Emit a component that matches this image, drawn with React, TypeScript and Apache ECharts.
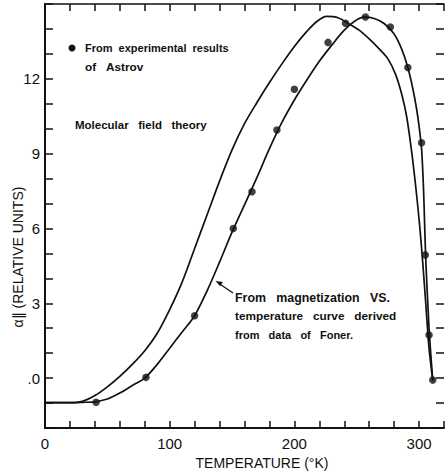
import React, { useEffect, useRef } from "react";
import * as echarts from "echarts";

// Tick labels
const xTickLabels = [0, 100, 200, 300];
const yTickLabels = [0, 3, 6, 9, 12];

// Experimental points (Astrov)
const astrovT = [41, 81, 120, 151, 166, 186, 200, 227, 241, 257, 277, 291, 302, 305, 308, 311];
const astrovA = [-0.97, 0.03, 2.5, 6.0, 7.47, 9.95, 11.58, 13.46, 14.23, 14.48, 14.08, 12.45, 9.44, 4.94, 1.73, -0.08];

// Molecular field theory curve
const molT = [0, 20, 30, 40, 50, 60, 70, 80, 90, 100, 110, 120, 130, 140, 150, 160, 170, 180, 190, 200, 210, 218, 226, 235, 244, 252, 260, 268, 275, 281, 286, 290, 294, 297.5, 300.5, 303, 305.5, 308, 311];
const molA = [-0.98, -0.98, -0.93, -0.7, -0.35, 0.07, 0.55, 1.1, 1.8, 2.75, 3.85, 5.2, 6.55, 7.9, 9.15, 10.2, 11.05, 11.85, 12.6, 13.3, 13.9, 14.3, 14.5, 14.45, 14.2, 13.95, 13.6, 13.2, 12.8, 12.2, 11.4, 10.5, 9.1, 7.6, 6.1, 4.6, 2.9, 1.2, -0.1];

// Curve from magnetization vs. temperature (Foner)
const magT = [0, 20, 30, 40, 50, 60, 70, 80, 90, 100, 110, 120, 130, 140, 150, 160, 170, 180, 190, 200, 210, 220, 230, 240, 248, 256, 264, 272, 280, 286, 291, 295, 298, 300, 302, 303.5, 304.5, 305.5, 307, 308.5, 311];
const magA = [-0.98, -0.98, -0.97, -0.95, -0.84, -0.6, -0.3, 0.0, 0.55, 1.2, 1.85, 2.5, 3.5, 4.65, 5.85, 6.95, 8.05, 9.2, 10.25, 11.15, 11.95, 12.7, 13.35, 13.95, 14.3, 14.47, 14.42, 14.22, 13.8, 13.2, 12.45, 11.6, 10.8, 10.1, 9.2, 7.7, 6.1, 4.6, 3.0, 1.6, -0.1];

const FONT = "Liberation Sans";
const G3 = "\u00a0\u00a0\u00a0";
const G2 = "\u00a0\u00a0";

export default function App() {
  const ref = useRef<HTMLDivElement>(null);
  useEffect(() => {
    if (!ref.current) return;
    const chart = echarts.init(ref.current, null, { renderer: "svg" });
    const zip = (a: number[], b: number[]) => a.map((v, i) => [v, b[i]]);
    const tickStyle = { color: "#111", width: 1.5 };
    const textStyle = (words: string[], size = 11.8, gap = G3) => ({
      text: words.join(gap),
      fill: "#111",
      font: `bold ${size}px "${FONT}"`,
      verticalAlign: "middle",
      align: "left",
    });
    chart.setOption({
      animation: false,
      backgroundColor: "#fff",
      textStyle: { fontFamily: FONT },
      grid: { left: 45, right: 0, top: 4, bottom: 48 },
      xAxis: [
        {
          type: "value",
          min: 0,
          max: 320,
          interval: 20,
          position: "bottom",
          axisLine: { onZero: false, lineStyle: { color: "#111", width: 2 } },
          axisTick: { inside: true, length: 7, lineStyle: tickStyle },
          splitLine: { show: false },
          axisLabel: {
            margin: 8,
            fontSize: 15,
            color: "#111",
            fontFamily: FONT,
            formatter: (v: number) => (xTickLabels.includes(v) ? String(v) : ""),
          },
        },
        {
          type: "value",
          min: 0,
          max: 320,
          interval: 20,
          position: "top",
          axisLine: { onZero: false, lineStyle: { color: "#111", width: 1.5 } },
          axisTick: { inside: true, length: 7, lineStyle: tickStyle },
          splitLine: { show: false },
          axisLabel: { show: false },
        },
      ],
      yAxis: [
        {
          type: "value",
          min: -2,
          max: 15,
          interval: 1,
          position: "left",
          axisLine: { onZero: false, lineStyle: { color: "#111", width: 2 } },
          axisTick: { inside: true, length: 8, lineStyle: tickStyle },
          splitLine: { show: false },
          axisLabel: {
            margin: 5,
            fontSize: 15,
            color: "#111",
            fontFamily: FONT,
            formatter: (v: number) =>
              yTickLabels.includes(v) ? (v === 0 ? ".0" : String(v)) : "",
          },
        },
        {
          type: "value",
          min: -2,
          max: 15,
          interval: 1,
          position: "right",
          axisLine: { show: false, onZero: false },
          axisTick: { show: true, inside: true, length: 8, lineStyle: tickStyle },
          splitLine: { show: false },
          axisLabel: { show: false },
        },
      ],
      series: [
        {
          name: "Molecular field theory",
          type: "line",
          data: zip(molT, molA),
          smooth: 0.3,
          showSymbol: false,
          lineStyle: { color: "#111", width: 1.7 },
        },
        {
          name: "From magnetization VS. temperature curve",
          type: "line",
          data: zip(magT, magA),
          smooth: 0.3,
          showSymbol: false,
          lineStyle: { color: "#111", width: 1.7 },
        },
        {
          name: "From experimental results of Astrov",
          type: "scatter",
          data: zip(astrovT, astrovA),
          symbol: "circle",
          symbolSize: 7.5,
          itemStyle: { color: "#111" },
          z: 5,
        },
      ],
      graphic: [
        { type: "circle", shape: { cx: 72, cy: 48, r: 3.5 }, style: { fill: "#111" } },
        { type: "text", x: 85, y: 48, style: textStyle(["From", "experimental", "results"], 11, G2) },
        { type: "text", x: 85, y: 67, style: textStyle(["of", "Astrov"]) },
        { type: "text", x: 75, y: 125, style: textStyle(["Molecular", "field", "theory"], 11.5) },
        { type: "text", x: 235, y: 298, style: textStyle(["From", "magnetization", "VS."], 12.4) },
        { type: "text", x: 235, y: 316, style: textStyle(["temperature", "curve", "derived"], 11.8) },
        { type: "text", x: 235, y: 335, style: textStyle(["from", "data", "of", "Foner."], 11) },
        {
          type: "line",
          shape: { x1: 233, y1: 293, x2: 219, y2: 283.5 },
          style: { stroke: "#111", lineWidth: 1.3 },
        },
        {
          type: "polygon",
          shape: { points: [[215.5, 281], [222.8, 282], [220.2, 286.3]] },
          style: { fill: "#111" },
        },
        {
          type: "text",
          x: 262,
          y: 463,
          style: {
            text: "TEMPERATURE (°K)",
            fill: "#111",
            font: `14px "${FONT}"`,
            align: "center",
            verticalAlign: "middle",
          },
        },
        {
          type: "text",
          x: 18,
          y: 257,
          rotation: Math.PI / 2,
          style: {
            text: "α∥ (RELATIVE UNITS)",
            fill: "#111",
            font: `14px "${FONT}"`,
            align: "center",
            verticalAlign: "middle",
          },
        },
      ],
    });
    return () => chart.dispose();
  }, []);
  return (
    <div
      ref={ref}
      style={{ position: "fixed", left: 0, top: 0, width: 447, height: 476, background: "#fff" }}
    />
  );
}
